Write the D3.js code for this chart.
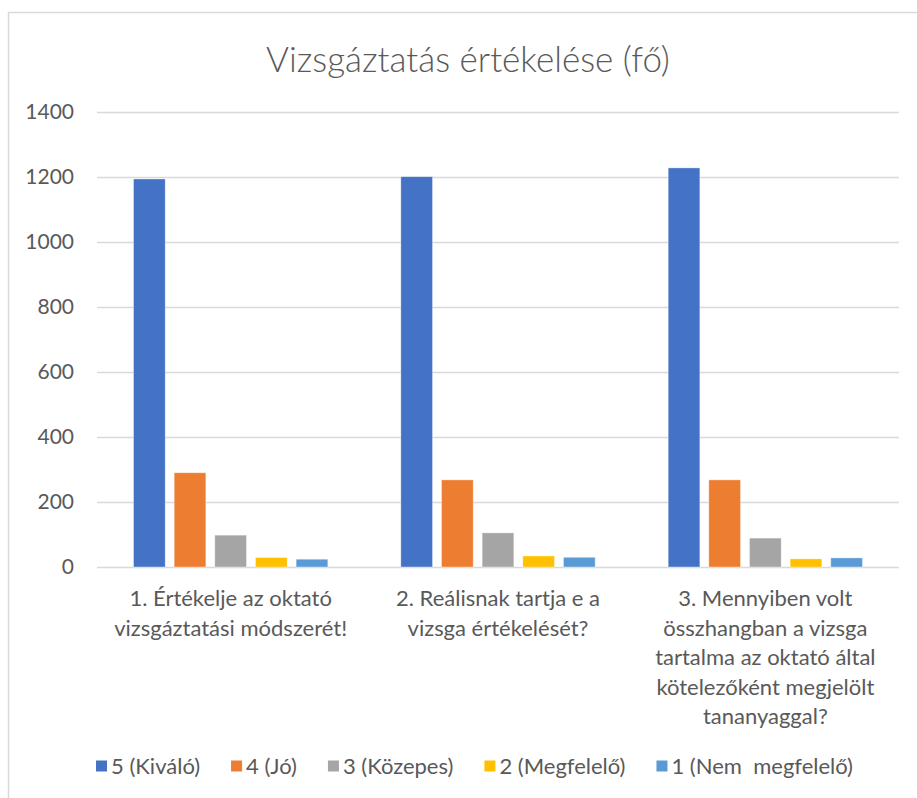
<!DOCTYPE html>
<html>
<head>
<meta charset="utf-8">
<script src="https://cdn.jsdelivr.net/npm/d3@7"></script>
<style>
  html, body { margin: 0; padding: 0; background: #fff; }
  svg text { font-family: Lato, "Open Sans", sans-serif; fill: #595959; }
</style>
</head>
<body>
<div id="chart"></div>
<script>
// chart data
const title = 'Vizsgáztatás értékelése (fő)';
const categories = [
  ['1. Értékelje az oktató', 'vizsgáztatási módszerét!'],
  ['2. Reálisnak tartja e a', 'vizsga értékelését?'],
  ['3. Mennyiben volt', 'összhangban a vizsga', 'tartalma az oktató által', 'kötelezőként megjelölt', 'tananyaggal?']
];
const seriesNames = ['5 (Kiváló)', '4 (Jó)', '3 (Közepes)', '2 (Megfelelő)', '1 (Nem  megfelelő)'];
const seriesColors = ['#4472C4', '#ED7D31', '#A5A5A5', '#FFC000', '#5B9BD5'];
const kivalo = [1194, 1201, 1228];
const jo = [290, 268, 268];
const kozepes = [98, 105, 89];
const megfelelo = [29, 34, 25];
const nemMegfelelo = [24, 30, 28];
const yTicks = [0, 200, 400, 600, 800, 1000, 1200, 1400];

const seriesValues = [kivalo, jo, kozepes, megfelelo, nemMegfelelo];

const width = 917, height = 798;
const plot = { left: 97, right: 899, top: 112, bottom: 567 };

const svg = d3.select('#chart').append('svg')
  .attr('width', width)
  .attr('height', height);

// outer chart border (runs off the right and bottom edge like the source)
svg.append('rect')
  .attr('x', 8.5).attr('y', 12.5)
  .attr('width', 940).attr('height', 820)
  .attr('fill', '#fff')
  .attr('stroke', '#d9d9d9')
  .attr('stroke-width', 1.5);

svg.append('text')
  .attr('x', 468)
  .attr('y', 72)
  .attr('text-anchor', 'middle')
  .style('font-size', '35px')
  .style('font-weight', 300)
  .text(title);

const y = d3.scaleLinear().domain([0, 1400]).range([plot.bottom, plot.top]);
const x0 = d3.scaleBand()
  .domain(d3.range(categories.length))
  .range([plot.left, plot.right]);
const x1 = d3.scaleBand()
  .domain(d3.range(seriesNames.length))
  .range([36.5, x0.bandwidth() - 36.5])
  .paddingInner(0.22);

// gridlines + y labels
const yAxis = svg.append('g')
  .attr('transform', `translate(${plot.left},0)`)
  .call(d3.axisLeft(y).tickValues(yTicks).tickFormat(d3.format('d'))
    .tickSize(-(plot.right - plot.left)).tickPadding(23));
yAxis.select('.domain').remove();
yAxis.selectAll('.tick line').attr('stroke', '#d9d9d9').attr('stroke-width', 1.5);
yAxis.selectAll('.tick text')
  .style('font-size', '21px')
  .style('font-family', 'Lato, sans-serif')
  .attr('fill', '#595959');

// bars
const groups = svg.append('g').selectAll('g')
  .data(categories.map((c, i) => i))
  .enter().append('g')
    .attr('transform', i => `translate(${x0(i)},0)`);

groups.selectAll('rect')
  .data(i => seriesValues.map((vals, s) => ({ s, v: vals[i] })))
  .enter().append('rect')
    .attr('x', d => x1(d.s))
    .attr('width', x1.bandwidth())
    .attr('y', d => y(d.v))
    .attr('height', d => y(0) - y(d.v))
    .attr('fill', d => seriesColors[d.s])
    .attr('stroke', '#fff')
    .attr('stroke-opacity', 0.5)
    .attr('stroke-width', 0.75);

// category labels, wrapped as in the source
const catLabels = svg.append('g').selectAll('text')
  .data(categories)
  .enter().append('text')
    .attr('text-anchor', 'middle')
    .attr('transform', (c, i) => `translate(${x0(i) + x0.bandwidth() / 2},606)`)
    .style('font-size', '22px');
catLabels.selectAll('tspan')
  .data(c => c)
  .enter().append('tspan')
    .attr('x', 0)
    .attr('y', (d, k) => k * 29.5)
    .text(d => d);

// legend
const legend = svg.append('g').attr('transform', 'translate(0,766)');
const items = legend.selectAll('g')
  .data(seriesNames)
  .enter().append('g');
items.append('rect')
  .attr('width', 11).attr('height', 11)
  .attr('y', -5.5)
  .attr('fill', (d, i) => seriesColors[i]);
items.append('text')
  .attr('x', 15)
  .attr('dy', '0.35em')
  .style('font-size', '22px')
  .style('white-space', 'pre')
  .attr('xml:space', 'preserve')
  .text(d => d);

let cursor = 0;
const offsets = [];
items.each(function () {
  offsets.push(cursor);
  const w = 15 + d3.select(this).select('text').node().getComputedTextLength();
  cursor += w + 31;
});
const total = cursor - 31;
const start = 474.5 - total / 2;
items.attr('transform', (d, i) => `translate(${start + offsets[i]},0)`);
</script>
</body>
</html>
